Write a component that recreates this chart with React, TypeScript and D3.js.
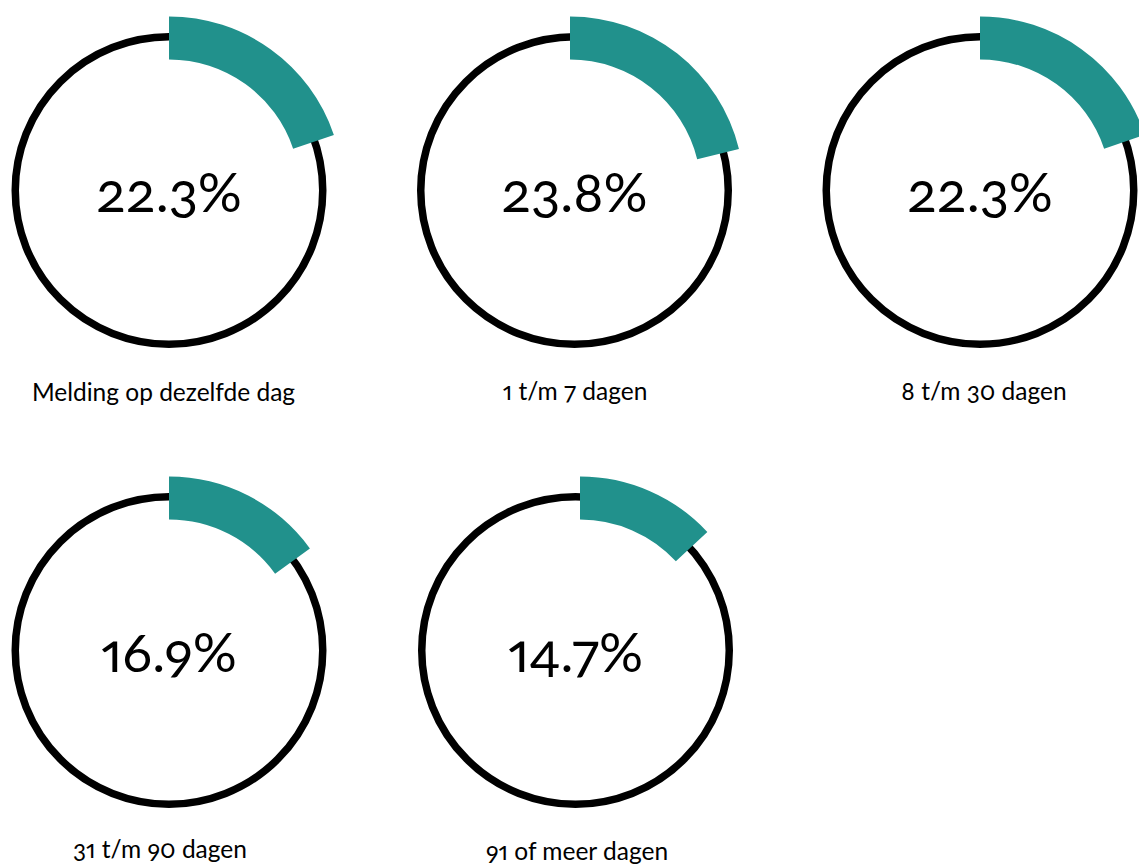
import React from "react";
import * as d3 from "d3";

// ---- data ----
const categories = [
  "Melding op dezelfde dag",
  "1 t/m 7 dagen",
  "8 t/m 30 dagen",
  "31 t/m 90 dagen",
  "91 of meer dagen",
];
const percentages = [22.3, 23.8, 22.3, 16.9, 14.7];

// ---- layout ----
const W = 1139;
const H = 864;
const circleCx = [169, 574.5, 980, 169, 575.5];
const arcCx = [169, 570, 980, 169, 580];
const circleCy = [190.5, 190.5, 190.5, 650.5, 650.5];
const labelX = [163.5, 575, 984, 160, 577];
const labelY = [401, 400, 400, 858, 860];

const TEAL = "#21918c";
const FONT = "Lato, 'Noto Sans', sans-serif";

const angle = d3.scaleLinear().domain([0, 112.5]).range([0, 2 * Math.PI]);
const fmt = (v: number) => d3.format(".1f")(v) + "%";

const arcGen = d3
  .arc<{ v: number }>()
  .innerRadius(131)
  .outerRadius(174)
  .startAngle(0)
  .endAngle((d) => angle(d.v));

export default function App() {
  return (
    <svg
      width={W}
      height={H}
      viewBox={`0 0 ${W} ${H}`}
      style={{ position: "absolute", left: 0, top: 0, display: "block", background: "#fff" }}
    >
      {percentages.map((v, i) => (
        <g key={categories[i]}>
          <circle
            cx={circleCx[i]}
            cy={circleCy[i]}
            r={153.75}
            fill="none"
            stroke="#000"
            strokeWidth={7.5}
          />
          <path
            d={arcGen({ v }) || ""}
            transform={`translate(${arcCx[i]},${circleCy[i]})`}
            fill={TEAL}
          />
          <text
            x={circleCx[i]}
            y={circleCy[i] + 21}
            textAnchor="middle"
            fontFamily={FONT}
            fontSize={55}
            fill="#000"
            style={{ fontVariantNumeric: "oldstyle-nums proportional-nums" }}
          >
            {fmt(v)}
          </text>
          <text
            x={labelX[i]}
            y={labelY[i]}
            textAnchor="middle"
            fontFamily={FONT}
            fontSize={24.5}
            fill="#000"
            style={{ fontVariantNumeric: "oldstyle-nums proportional-nums" }}
          >
            {categories[i]}
          </text>
        </g>
      ))}
    </svg>
  );
}
